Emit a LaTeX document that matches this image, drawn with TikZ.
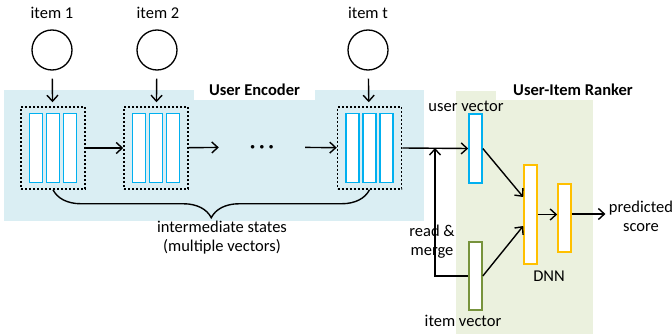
\documentclass[tikz,border=0pt]{standalone}
\usepackage{fontspec}
\setmainfont{Carlito}
\usetikzlibrary{arrows.meta,decorations.pathreplacing}
\definecolor{encbg}{HTML}{DAEEF3}
\definecolor{rankbg}{HTML}{EBF1DE}
\definecolor{vecblue}{HTML}{00B0F0}
\definecolor{vecgreen}{HTML}{77933C}
\definecolor{dnnorange}{HTML}{FFC000}
\tikzset{
    itemcirc/.style={circle, draw, line width=1.3pt, minimum size=40pt, inner sep=0pt},
    statebox/.style={draw, dash pattern=on 2pt off 2pt, line width=1.5pt, minimum width=64pt, minimum height=82pt, inner sep=0pt},
    vbar/.style={draw=#1, fill=white, line width=1.6pt, minimum width=13pt, inner sep=0pt},
    arr/.style={-{Straight Barb[length=6pt,width=11pt,line width=1.4pt]}, line width=1.4pt},
    title/.style={fill=white, font=\fontsize{16.5}{19}\selectfont\bfseries, inner sep=0pt, minimum height=20pt},
    brace/.style={decorate, decoration={brace, amplitude=28pt}, line width=1.4pt}
}
\begin{document}
\begin{tikzpicture}[x=1pt, y=1pt, font=\fontsize{16.5}{19}\selectfont]
                \useasboundingbox (0,0) rectangle (672,-334);
                \fill [encbg] (4,-90) rectangle (424,-221);
                \fill [rankbg] (456,-91) rectangle (593,-334);
                \node [title, minimum width=121pt] (enctitle) at (254.5,-90) {User Encoder};
                \node [title, minimum width=154pt] (ranktitle) at (573,-90) {User-Item Ranker};
                \node [itemcirc] (c1) at (52,-50) {};
                \node [itemcirc] (c2) at (157,-50) {};
                \node [itemcirc] (ct) at (368,-50) {};
                \node (c1lab) at (52,-13) {item 1};
                \node (c2lab) at (158,-13) {item 2};
                \node (ctlab) at (368,-13) {item t};
                \node [statebox] (h1) at (53,-148) {};
                \node [statebox] (h2) at (156,-148) {};
                \node [statebox] (ht) at (369.5,-148) {};
                \foreach \h in {h1,h2,ht} {
                    \foreach \i/\dx in {1/-17,2/0,3/17} {
                        \node [vbar=vecblue, minimum height=69pt] (\h-\i) at ([xshift=\dx]\h.center) {};
                    }
                }
                \node [minimum width=86pt] (dots) at (262,-147) {\fontsize{9}{9}\selectfont$\bullet\;\bullet\;\bullet$};
                \draw [arr, shorten <=8pt, shorten >=4pt] (c1) -- (h1);
                \draw [arr, shorten <=8pt, shorten >=4pt] (c2) -- (h2);
                \draw [arr, shorten <=8pt, shorten >=4pt] (ct) -- (ht);
                \draw [arr] (h1) -- (h2);
                \draw [arr] (h2) -- (dots);
                \draw [arr] (dots) -- (ht);
                \draw [brace] (ht.south) -- (h1.south);
                \node [align=center] (states) at (222,-238) {intermediate states\\(multiple vectors)};
                \node [vbar=vecblue, minimum height=69pt] (uv) at (475.5,-148.5) {};
                \node [vbar=vecgreen, minimum height=68pt] (iv) at (475.5,-276) {};
                \node [vbar=dnnorange, minimum height=99pt] (dnn1) at (530.5,-214.5) {};
                \node [vbar=dnnorange, minimum height=68pt] (dnn2) at (564.5,-218) {};
                \node (uvlab) at (466,-106) {user vector};
                \node (ivlab) at (463,-321) {item vector};
                \node (dnnlab) at (549,-276) {DNN};
                \node [align=center] (merge) at (432,-242) {read \&\\merge};
                \node [align=center] (score) at (641,-216) {predicted\\score};
                \coordinate (join) at (435,-148);
                \draw [arr] (ht.east) -- (uv.west);
                \draw [arr] (iv.west) -| (join);
                \draw [arr] (uv.east) -- ([yshift=17.5pt]dnn1.west);
                \draw [arr] (iv.east) -- ([yshift=-11.5pt]dnn1.west);
                \draw [arr] (dnn1.east) -- (dnn1.east -| dnn2.west);
                \draw [arr] ([yshift=4pt]dnn2.east) -- ([yshift=4pt]dnn2.east -| score.west);
            \end{tikzpicture}
\end{document}
